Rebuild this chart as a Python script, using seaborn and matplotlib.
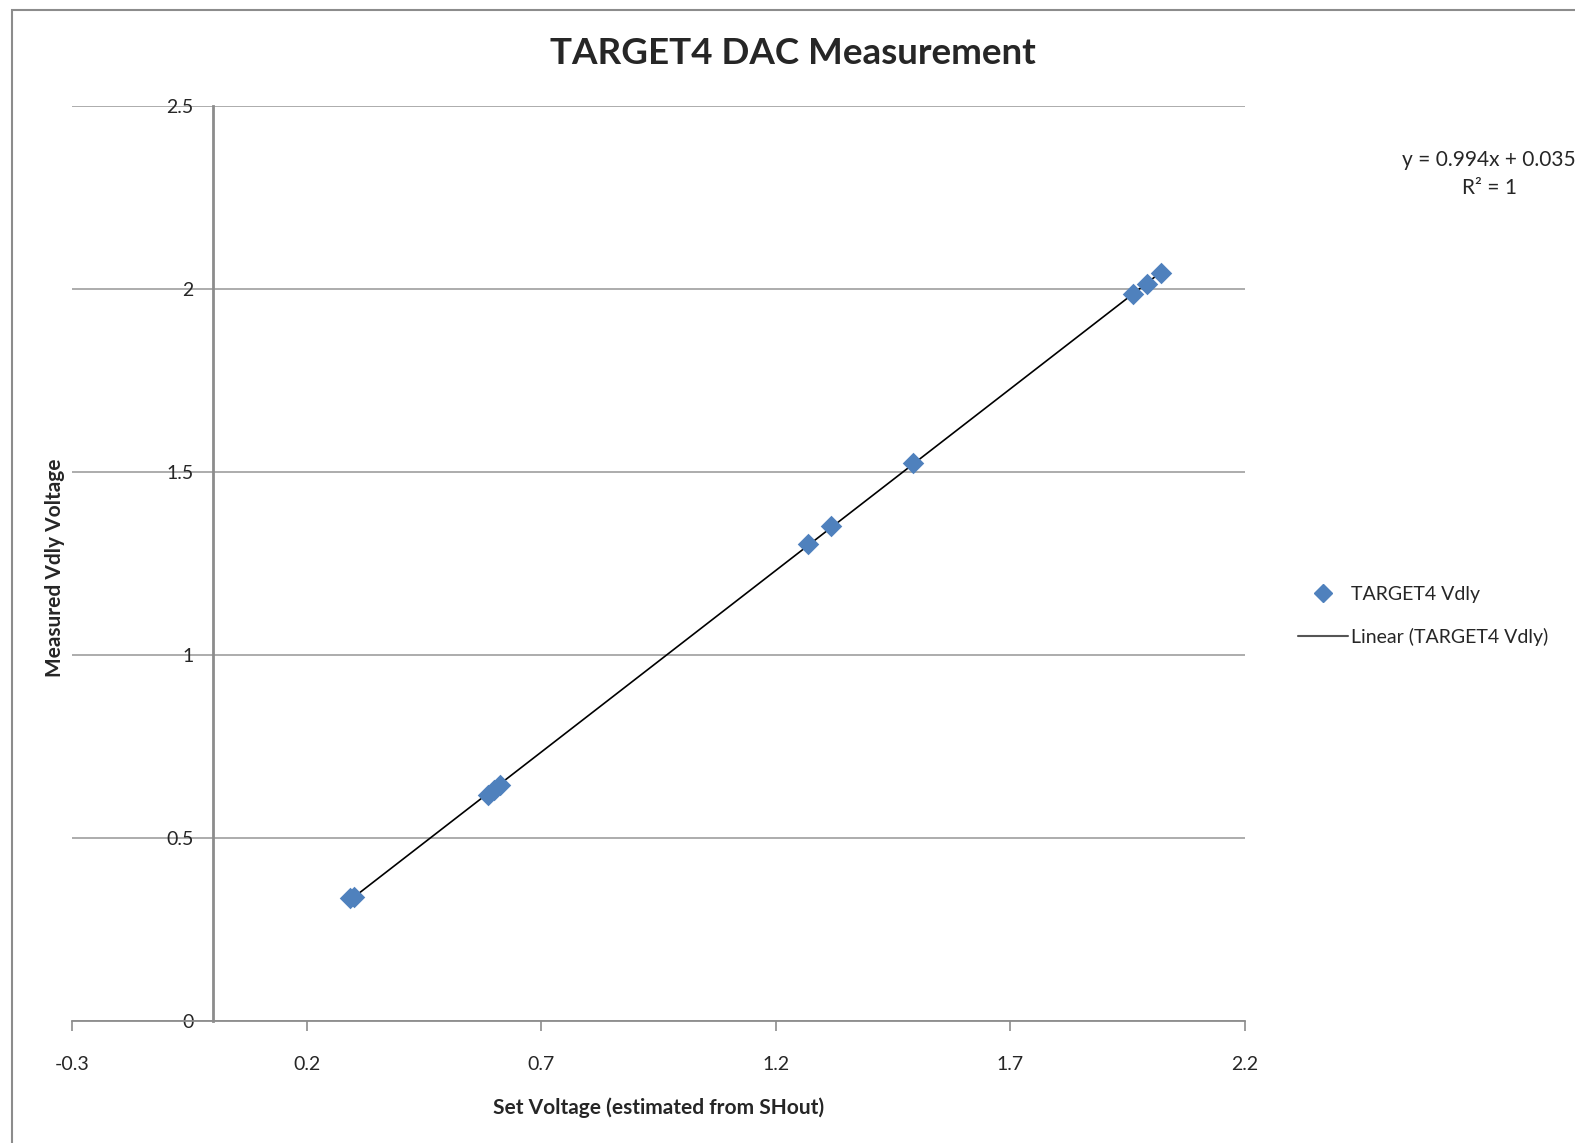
import numpy as np
import pandas as pd
import matplotlib
matplotlib.use("Agg")
import matplotlib.pyplot as plt
from matplotlib.lines import Line2D
from matplotlib.patches import Rectangle
import seaborn as sns

# Data
set_voltage = [0.293, 0.300, 0.587, 0.600, 0.612, 1.269, 1.318, 1.492, 1.961, 1.991, 2.021]
measured_vdly = [0.335, 0.340, 0.617, 0.630, 0.645, 1.303, 1.352, 1.525, 1.986, 2.014, 2.044]
x_ticks = [-0.3, 0.2, 0.7, 1.2, 1.7, 2.2]
y_ticks = [0, 0.5, 1, 1.5, 2, 2.5]
series_name = "TARGET4 Vdly"

df = pd.DataFrame({"x": set_voltage, "y": measured_vdly})

sns.set_theme(style="white")
plt.rcParams['font.family'] = ['Lato', 'DejaVu Sans']

fig = plt.figure(figsize=(15.75, 11.43), dpi=100)
ax = fig.add_axes([72/1575, 1-1021/1143, (1245-72)/1575, (1021-106)/1143])

# outer chart frame
fig.patches.append(Rectangle((12/1575, -0.05), 1.2, 1 - 10/1143 + 0.05,
                             transform=fig.transFigure, fill=False,
                             edgecolor="#8c8c8c", linewidth=1.5))

sns.regplot(data=df, x="x", y="y", ax=ax, scatter=False, ci=None, truncate=True,
            line_kws=dict(color="black", linewidth=1.2))
sns.scatterplot(data=df, x="x", y="y", ax=ax, marker="D", s=120, color="#4F81BD",
                edgecolor="#4F81BD", linewidth=0, zorder=3)

ax.set_xlim(-0.3, 2.2)
ax.set_ylim(0, 2.5)
ax.set_xticks(x_ticks)
ax.set_xticklabels([f"{t:g}" for t in x_ticks])
ax.set_yticks(y_ticks)
ax.set_yticklabels([f"{t:g}" for t in y_ticks])

ax.grid(axis="y", color="#a6a6a6", linewidth=1.3)
ax.grid(axis="x", visible=False)
ax.set_axisbelow(True)

for s in ["top", "right"]:
    ax.spines[s].set_visible(False)
ax.spines["left"].set_position(("data", 0))
ax.spines["left"].set_color("#8c8c8c")
ax.spines["left"].set_linewidth(2)
ax.spines["bottom"].set_color("#8c8c8c")
ax.spines["bottom"].set_linewidth(1.3)

ax.tick_params(axis="x", direction="out", length=7, width=1.2, color="#8c8c8c",
               labelsize=14, pad=18, bottom=True)
ax.tick_params(axis="y", length=0, labelsize=14, pad=14, left=False)

ax.set_xlabel("Set Voltage (estimated from SHout)", fontsize=15, fontweight="bold", labelpad=18)
ax.set_ylabel("Measured Vdly Voltage", fontsize=15, fontweight="bold")
ax.yaxis.set_label_coords(-0.006, 0.495)
ax.yaxis.label.set_horizontalalignment("center")

fig.text(793/1575, 1-53/1143, "TARGET4 DAC Measurement", ha="center", va="center",
         fontsize=26.5, fontweight="bold")

fig.text(1489/1575, 1-160/1143, "y = 0.994x + 0.035", ha="center", va="center", fontsize=15)
fig.text(1489/1575, 1-188/1143, "R² = 1", ha="center", va="center", fontsize=15)

handles = [
    Line2D([], [], marker="D", linestyle="none", color="#4F81BD", markersize=9),
    Line2D([], [], color="#555555", linewidth=1.5),
]
fig.legend(handles, [series_name, f"Linear ({series_name})"], loc="center left",
           bbox_to_anchor=(1280/1575, 1-616/1143), frameon=False, fontsize=14,
           handlelength=2.6, labelspacing=1.3, handletextpad=0.15)

fig.savefig("out.png", dpi=100)
